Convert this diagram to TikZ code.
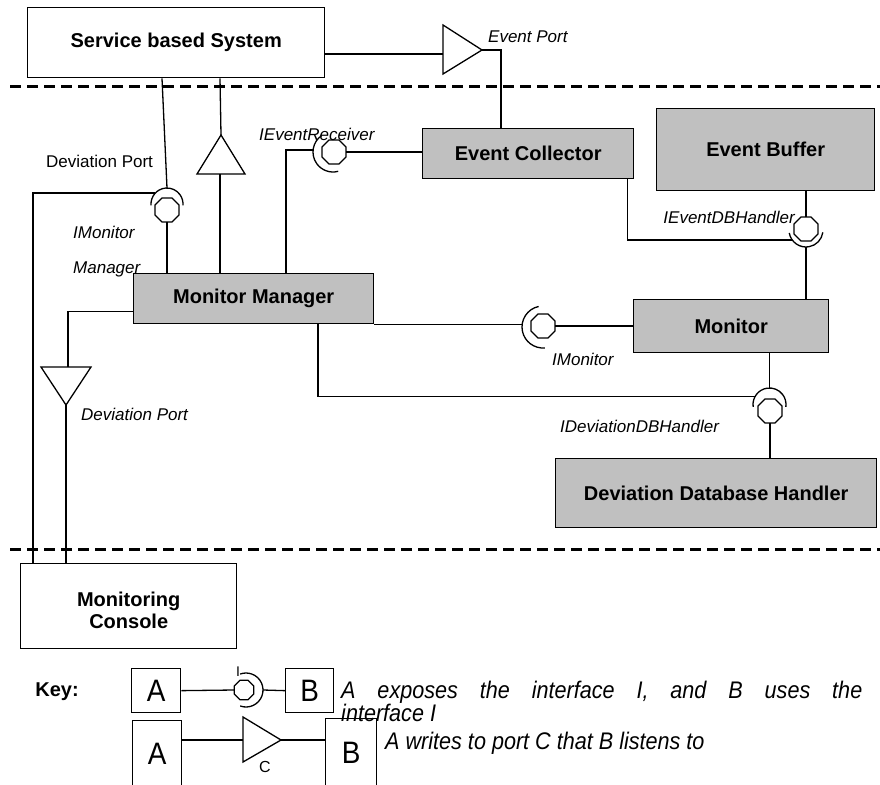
\documentclass[tikz,border=0pt]{standalone}
\usepackage{fontspec}
\usepackage{graphicx}
\setmainfont{Liberation Sans}
\usetikzlibrary{calc,shapes.geometric}
\definecolor{boxgray}{HTML}{C0C0C0}
\newcommand{\narrow}[1]{\scalebox{0.9}[1]{#1}}
\begin{document}
\begin{tikzpicture}[x=1pt,y=1pt,
  conn/.style={line width=1.3pt},
  port/.style={line width=1.3pt, line join=miter},
  box/.style={draw, line width=1.4pt, inner sep=0pt, anchor=north west, align=center, font=\fontsize{20}{22}\selectfont\bfseries},
  gbox/.style={box, fill=boxgray},
  ball/.style={draw, line width=1.3pt, regular polygon, regular polygon sides=8, minimum size=26pt, inner sep=0pt, outer sep=0pt},
  lab/.style={font=\fontsize{17}{20}\selectfont\itshape, inner sep=0pt, anchor=base west},
  rlab/.style={font=\fontsize{17}{20}\selectfont, inner sep=0pt, anchor=base west},
  keybox/.style={draw, line width=1.3pt, inner sep=0pt, anchor=north west, font=\fontsize{31}{33}\selectfont},
  keytext/.style={font=\fontsize{24}{26}\selectfont\itshape, inner sep=0pt, anchor=base west},
  divider/.style={line width=3pt, dash pattern=on 11pt off 6pt}
]
\useasboundingbox (0,0) rectangle (880,-784);
\fill[white] (0,0) rectangle (880,-784);

% dividers
\draw[divider] (10,-86) -- (880,-86);
\draw[divider] (10,-549) -- (880,-549);

% components
\node[box, minimum width=297pt, minimum height=70pt] (sbs) at (27,-7) {Service based System};
\node[gbox, minimum width=211pt, minimum height=50pt] (ec) at (422,-128) {Event Collector};
\node[gbox, minimum width=218pt, minimum height=82pt] (eb) at (656,-108) {Event Buffer};
\node[gbox, minimum width=240pt, minimum height=50pt] (mm) at (133,-273) {Monitor Manager};
\node[gbox, minimum width=195pt, minimum height=53pt] (mon) at (633,-299) {Monitor};
\node[gbox, minimum width=321pt, minimum height=69pt] (ddh) at (555,-458) {Deviation Database Handler};
\node[box, minimum width=216pt, minimum height=85pt] (mc) at (20,-563) {};
\node[font=\fontsize{20}{22}\selectfont\bfseries, align=center, inner sep=0pt] (mct) at ($(mc.center)+(0,-4)$) {Monitoring\\Console};

% balls (provided interfaces)
\node[ball] (b1) at (167,-210) {};
\node[ball] (b2) at (334,-152) {};
\node[ball] (b3) at (806,-229) {};
\node[ball] (b4) at (543,-326) {};
\node[ball] (b5) at (770,-411) {};

% socket centres
\coordinate (s1) at (167,-204);
\coordinate (s2) at (333,-152);
\coordinate (s3) at (806,-230);
\coordinate (s4) at (543,-327);
\coordinate (s5) at (769.5,-404.5);

% sockets (required interfaces)
\draw[conn] ($(s1)+(185:16)$) arc[start angle=185, end angle=-5, radius=16];
\draw[conn] ($(s2)+(125:20)$) arc[start angle=125, end angle=285, radius=20];
\draw[conn] ($(s3)+(190:17)$) arc[start angle=190, end angle=352, radius=17];
\draw[conn] ($(s4)+(102:21)$) arc[start angle=102, end angle=275, radius=21];
\draw[conn] ($(s5)+(188:16.5)$) arc[start angle=188, end angle=-8, radius=16.5];

% IMonitorManager: SBS and console use, MM provides
\coordinate (s1l) at ($(s1)+(137:16)$);
\draw[conn] ($(sbs.south west)+(135,0)$) -- ($(s1)+(0,16)$);
\draw[conn] (s1l) -| ($(mc.north west)+(13,0)$);
\draw[conn] (b1.south) -- (b1.south |- mm.north);

% port from MM up to SBS
\coordinate (t1a) at (221,-135);
\coordinate (t1l) at (197,-174);
\coordinate (t1r) at (245,-174);
\coordinate (t1b) at (220,-174);
\draw[port] (t1a) -- (t1l) -- (t1r) -- cycle;
\draw[conn] ($(sbs.south west)+(193,0)$) -- (t1a);
\draw[conn] (t1b) -- (t1b |- mm.north);

% IEventReceiver
\coordinate (s2l) at ($(s2)+(174:20)$);
\draw[conn] ($(mm.north west)+(153,0)$) |- (s2l);
\draw[conn] (b2.east) -- (b2.east -| ec.west);

% Event Port
\coordinate (tpt) at (443,-25);
\coordinate (tpb) at (443,-74);
\coordinate (tpa) at (482,-50);
\coordinate (tpin) at (443,-54);
\draw[port] (tpt) -- (tpa) -- (tpb) -- cycle;
\draw[conn] (sbs.east |- tpin) -- (tpin);
\draw[conn] (tpa) -| ($(ec.north west)+(79,0)$);

% IEventDBHandler
\coordinate (s3l) at ($(s3)+(216:17)$);
\draw[conn] ($(ec.south east)+(-7,0)$) |- (s3l);
\draw[conn] (b3.north |- eb.south) -- (b3.north);
\draw[conn] ($(s3)+(0,-17)$) -- (mon.north -| s3);

% IMonitor
\coordinate (s4l) at ($(s4)+(172:21)$);
\draw[conn] (mm.south east) -- (s4l |- mm.south east);
\draw[conn] (b4.east) -- (b4.east -| mon.west);

% IDeviationDBHandler
\coordinate (s5l) at ($(s5)+(152:16.5)$);
\draw[conn] ($(mm.south west)+(185,0)$) |- (s5l);
\draw[conn] (mon.south -| s5) -- ($(s5)+(0,16.5)$);
\draw[conn] (b5.south) -- (b5.south |- ddh.north);

% Deviation Port to console
\coordinate (t2l) at (41,-367);
\coordinate (t2r) at (91,-367);
\coordinate (t2a) at (66,-405);
\coordinate (t2in) at (68,-367);
\draw[port] (t2l) -- (t2r) -- (t2a) -- cycle;
\draw[conn] ($(mm.west)+(0,-13)$) -| (t2in);
\draw[conn] (t2a) -- (t2a |- mc.north);

% labels
\node[lab] (lEP) at (488,-42) {Event Port};
\node[lab] (lIER) at (259,-140) {IEventReceiver};
\node[rlab] (lDP1) at (46,-167) {Deviation Port};
\node[lab] (lIMM1) at (73,-238) {IMonitor};
\node[lab] (lIMM2) at (73,-273) {Manager};
\node[lab] (lDP2) at (81,-420) {Deviation Port};
\node[lab, anchor=base east] (lIEDB) at (795,-223) {IEventDBHandler};
\node[lab] (lIM) at (552,-365) {IMonitor};
\node[lab] (lIDDB) at (560,-432) {IDeviationDBHandler};

% key
\node[font=\fontsize{20}{24}\selectfont\bfseries, inner sep=0pt] (key) at (57,-692) {Key:};
\node[keybox, minimum width=49pt, minimum height=44pt] (ka1) at (131,-668) {\narrow{A}};
\node[keybox, minimum width=48pt, minimum height=44pt] (kb1) at (285,-668) {\narrow{B}};
\node[ball, minimum size=21pt] (kball) at (244,-690) {};
\coordinate (ks) at (246,-690);
\draw[conn] ($(ks)+(-110:17)$) arc[start angle=-110, end angle=110, radius=17];
\draw[conn] (ka1.east) -- (kball.west);
\draw[conn] ($(ks)+(17,0)$) -- (kb1.west);
\node[font=\fontsize{14}{16}\selectfont, inner sep=0pt] (kI) at (238,-672) {I};
\node[keytext] (kt1) at (341,-698) {\scalebox{0.9}[1]{\makebox[579pt][s]{A exposes the interface I, and B uses the}}};
\node[keytext] (kt1b) at (341,-721) {\narrow{interface I}};

\node[keybox, minimum width=49pt, minimum height=66pt] (ka2) at (132,-720) {\narrow{A}};
\node[keybox, minimum width=51pt, minimum height=68pt] (kb2) at (325,-718) {\narrow{B}};
\coordinate (ktt) at (243,-717);
\coordinate (ktb) at (243,-762);
\coordinate (kta) at (281,-740);
\draw[port] (ktt) -- (kta) -- (ktb) -- cycle;
\draw[conn] (ka2.east |- kta) -- (ktt |- kta);
\draw[conn] (kta) -- (kta -| kb2.west);
\node[font=\fontsize{16}{18}\selectfont, inner sep=0pt] (kC) at (265,-767) {C};
\node[keytext] (kt2) at (385,-749) {\narrow{A writes to port C that B listens to}};
\end{tikzpicture}
\end{document}
